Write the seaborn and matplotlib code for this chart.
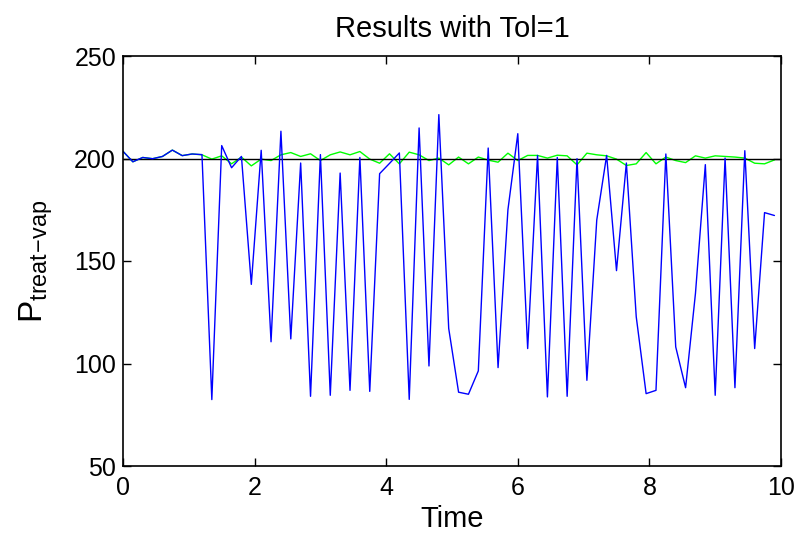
import numpy as np
import pandas as pd
import matplotlib
matplotlib.use("Agg")
import matplotlib.pyplot as plt
import seaborn as sns

dt = 0.15
blue_vals = [203.5, 198.4, 200.5, 199.9, 201.0, 204.1, 201.4, 202.2, 201.9, 82.4,
             206.3, 195.5, 201.0, 138.6, 204.0, 110.6, 213.3, 112.0, 197.8, 84.0,
             201.9, 84.5, 192.9, 86.9, 200.5, 86.4, 192.6, 197.6, 202.7, 82.5,
             214.9, 98.8, 221.4, 117.1, 86.0, 85.0, 96.4, 205.1, 98.0, 175.0,
             212.1, 107.3, 201.5, 83.7, 200.5, 84.0, 199.9, 91.8, 170.0, 201.5,
             145.3, 197.8, 122.8, 85.3, 86.9, 202.2, 108.1, 88.2, 134.2, 197.0,
             84.5, 200.2, 88.2, 203.8, 107.3, 173.6, 172.2]
green_vals = [203.5, 198.4, 200.5, 199.9, 201.0, 204.1, 201.4, 202.2, 201.8, 199.7,
              201.3, 197.4, 200.7, 196.4, 199.7, 199.0, 201.8, 202.9, 201.0, 202.3,
              199.0, 201.8, 203.2, 201.8, 203.4, 199.7, 197.7, 202.3, 197.4, 203.1,
              201.8, 199.0, 200.2, 196.9, 200.7, 197.4, 200.7, 199.2, 198.2, 202.6,
              199.0, 201.5, 201.5, 200.2, 201.6, 201.3, 196.9, 202.6, 201.8, 201.3,
              199.7, 196.6, 197.4, 202.9, 197.4, 200.7, 199.0, 198.0, 201.3, 200.2,
              201.3, 201.0, 200.7, 200.2, 197.7, 197.4, 199.3]
setpoint = 200
x_ticks = [0, 2, 4, 6, 8, 10]
y_ticks = [50, 100, 150, 200, 250]

time = np.arange(len(blue_vals)) * dt
df = pd.DataFrame({"Time": time, "blue": blue_vals, "green": green_vals})
ref_df = pd.DataFrame({"Time": [0, 10], "ref": [setpoint, setpoint]})

sns.set_style("ticks")
plt.rcParams["font.family"] = ["Liberation Sans", "DejaVu Sans"]
plt.rcParams["mathtext.fontset"] = "custom"
plt.rcParams["mathtext.rm"] = "Liberation Sans"
plt.rcParams["text.color"] = "black"
plt.rcParams["axes.labelcolor"] = "black"

fig = plt.figure(figsize=(8.05, 5.41), dpi=100)
ax = fig.add_axes([123 / 805, 1 - 466 / 541, (781 - 123) / 805, (466 - 56) / 541])

sns.lineplot(data=df, x="Time", y="green", ax=ax, color=(0, 1, 0), lw=1.0)
sns.lineplot(data=ref_df, x="Time", y="ref", ax=ax, color="black", lw=1.0)
sns.lineplot(data=df, x="Time", y="blue", ax=ax, color=(0, 0, 1), lw=1.0)

ax.set_xlim(0, 10)
ax.set_ylim(50, 250)
ax.set_xticks(x_ticks)
ax.set_yticks(y_ticks)
ax.tick_params(axis="x", pad=7)
ax.tick_params(direction="in", length=6, width=1, top=True, right=True,
               labelsize=18, colors="black")
ax.tick_params(axis="y", pad=5)
for s in ax.spines.values():
    s.set_visible(True)
    s.set_color("black")
    s.set_linewidth(1.2)

ax.set_title("Results with Tol=1", fontsize=21, pad=14, color="black")
ax.set_xlabel("Time", fontsize=21, labelpad=4, color="black")
ax.set_ylabel(r"$\mathregular{P_{treat\!-\!vap}}$", fontsize=24, labelpad=14,
              color="black")

fig.savefig("out.png", dpi=100)
